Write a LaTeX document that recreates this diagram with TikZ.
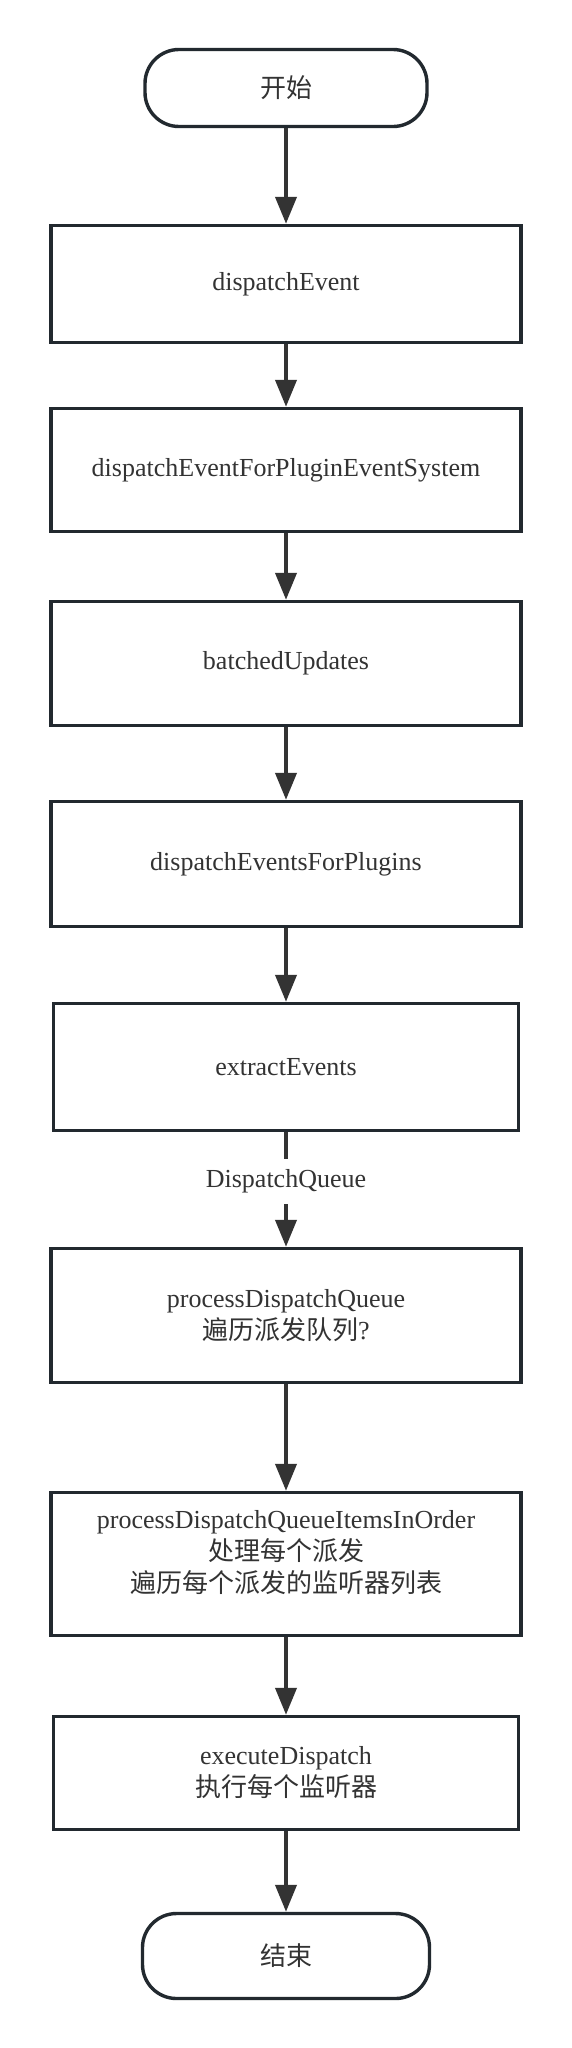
\documentclass[tikz,border=0pt]{standalone}
\usepackage{fontspec}
\setmainfont{Liberation Serif}
\newfontfamily\cjk{Noto Sans CJK SC}
\usetikzlibrary{arrows.meta}
\definecolor{bordercol}{HTML}{22292F}
\definecolor{linecol}{HTML}{333333}
\definecolor{textcol}{HTML}{333333}
\tikzset{
  base/.style={draw=bordercol, line width=3.4pt, fill=white, text=textcol, inner sep=0pt,
    align=center, font=\fontsize{26pt}{32pt}\selectfont},
  procbox/.style={base, minimum width=470pt},
  termbox/.style={base, rounded corners=34pt},
  flow/.style={draw=linecol, line width=4pt, -{Triangle[length=27pt,width=21pt]}},
  lbl/.style={fill=white, text=textcol, inner xsep=4pt, inner ysep=11pt, font=\fontsize{26pt}{32pt}\selectfont}
}
\begin{document}
\begin{tikzpicture}[x=1pt,y=-1pt]
\useasboundingbox[fill=white] (0,0) rectangle (572,2048);
\node[termbox, minimum width=282pt, minimum height=77pt] (start) at (286,88) {\cjk 开始};
\node[procbox, minimum height=117pt] (b1) at (286,284) {dispatchEvent};
\node[procbox, minimum height=123pt] (b2) at (286,470) {dispatchEventForPluginEventSystem};
\node[procbox, minimum height=124pt] (b3) at (286,663.5) {batchedUpdates};
\node[procbox, minimum height=125pt] (b4) at (286,864) {dispatchEventsForPlugins};
\node[procbox, minimum width=465pt, minimum height=127pt] (b5) at (286,1067) {extractEvents};
\node[procbox, minimum height=134pt] (b6) at (286,1315.5) {processDispatchQueue\\{\cjk 遍历派发队列}?};
\node[procbox, minimum height=143pt] (b7) at (286,1564) {processDispatchQueueItemsInOrder\\{\cjk 处理每个派发}\\{\cjk 遍历每个派发的监听器列表}\\[-6pt]\mbox{}};
\node[procbox, minimum width=465pt, minimum height=113pt] (b8) at (286,1773) {executeDispatch\\{\cjk 执行每个监听器}};
\node[termbox, minimum width=287pt, minimum height=85pt] (end) at (286,1956) {\cjk 结束};
\draw[flow] (start) -- (b1);
\draw[flow] (b1) -- (b2);
\draw[flow] (b2) -- (b3);
\draw[flow] (b3) -- (b4);
\draw[flow] (b4) -- (b5);
\draw[flow] (b5) -- node[lbl, pos=0.43] (dq) {DispatchQueue} (b6);
\draw[flow] (b6) -- (b7);
\draw[flow] (b7) -- (b8);
\draw[flow] (b8) -- (end);
\end{tikzpicture}
\end{document}
